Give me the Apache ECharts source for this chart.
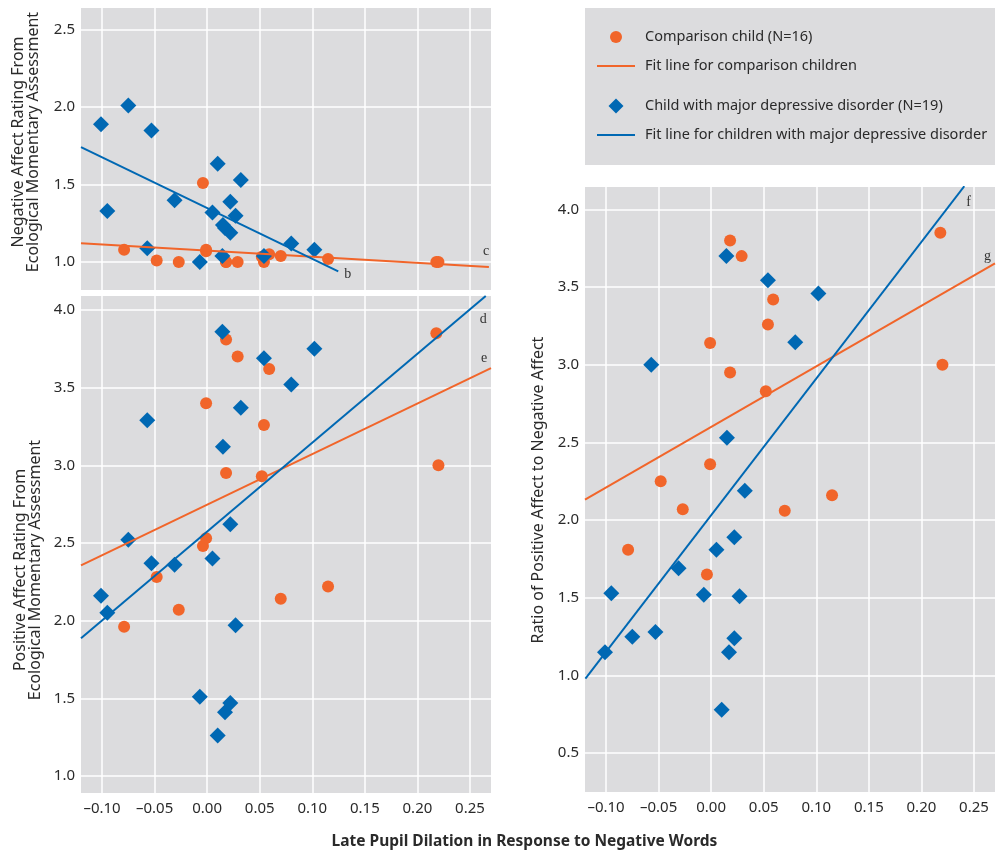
<!DOCTYPE html>
<html>
<head>
<meta charset="utf-8">
<script src="https://cdn.jsdelivr.net/npm/echarts@6/dist/echarts.min.js"></script>
<style>
html,body{margin:0;padding:0;background:#fff;}
#chart{width:1002px;height:854px;}
</style>
</head>
<body>
<div id="chart"></div>
<script>
// ---------- DATA ----------
const xTicks = [-0.10, -0.05, 0.00, 0.05, 0.10, 0.15, 0.20, 0.25];
const xTickLabels = ['\u20130.10', '\u20130.05', '0.00', '0.05', '0.10', '0.15', '0.20', '0.25'];
const naTicks = [1.0, 1.5, 2.0, 2.5];
const naTickLabels = ['1.0', '1.5', '2.0', '2.5'];
const paTicks = [1.0, 1.5, 2.0, 2.5, 3.0, 3.5, 4.0];
const paTickLabels = ['1.0', '1.5', '2.0', '2.5', '3.0', '3.5', '4.0'];
const ratioTicks = [0.5, 1.0, 1.5, 2.0, 2.5, 3.0, 3.5, 4.0];
const ratioTickLabels = ['0.5', '1.0', '1.5', '2.0', '2.5', '3.0', '3.5', '4.0'];

// Comparison children (N=16)
const compX     = [-0.079, -0.048, -0.027, -0.004, -0.001, -0.001, 0.018, 0.018, 0.029, 0.052, 0.054, 0.059, 0.070, 0.115, 0.218, 0.220];
const compNA    = [1.08, 1.01, 1.00, 1.51, 1.07, 1.08, 1.00, 1.00, 1.00, 1.035, 1.00, 1.05, 1.04, 1.02, 1.00, 1.00];
const compPA    = [1.96, 2.28, 2.07, 2.48, 2.53, 3.40, 3.81, 2.95, 3.70, 2.93, 3.26, 3.62, 2.14, 2.22, 3.85, 3.00];
const compRatio = [1.81, 2.25, 2.07, 1.65, 2.36, 3.14, 3.80, 2.95, 3.70, 2.83, 3.26, 3.42, 2.06, 2.16, 3.85, 3.00];

// Children with major depressive disorder (N=19)
const mddX     = [-0.101, -0.095, -0.075, -0.057, -0.053, -0.031, -0.007, 0.005, 0.010, 0.0145, 0.015, 0.017, 0.022, 0.022, 0.027, 0.032, 0.054, 0.080, 0.102];
const mddNA    = [1.89, 1.33, 2.01, 1.09, 1.85, 1.40, 1.00, 1.32, 1.635, 1.04, 1.24, 1.22, 1.39, 1.19, 1.30, 1.53, 1.04, 1.12, 1.08];
const mddPA    = [2.16, 2.05, 2.52, 3.29, 2.37, 2.36, 1.51, 2.40, 1.26, 3.86, 3.12, 1.41, 2.62, 1.47, 1.97, 3.37, 3.69, 3.52, 3.75];
const mddRatio = [1.15, 1.53, 1.25, 3.00, 1.28, 1.69, 1.52, 1.81, 0.78, 3.70, 2.53, 1.15, 1.89, 1.24, 1.51, 2.19, 3.545, 3.145, 3.46];

// Fit lines (end points)
const fitNAComp    = [[-0.12, 1.121], [0.268, 0.968]];
const fitNAMdd     = [[-0.12, 1.742], [0.1247, 0.940]];
const fitPAComp    = [[-0.12, 2.356], [0.27, 3.625]];
const fitPAMdd     = [[-0.12, 1.886], [0.265, 4.09]];
const fitRatioComp = [[-0.12, 2.133], [0.27, 3.653]];
const fitRatioMdd  = [[-0.1196, 0.98], [0.2408, 4.15]];
const fitLetters = ['b', 'c', 'd', 'e', 'f', 'g'];

const seriesNames = ['Comparison child (N=16)', 'Fit line for comparison children',
  'Child with major depressive disorder (N=19)', 'Fit line for children with major depressive disorder'];

// ---------- STYLE ----------
const ORANGE = '#f1652a';
const BLUE = '#0068b3';
const PANEL = '#dcdcde';
const FONT = 'Noto Sans';
const TXT = '#2a2a2a';
const DIAMOND_ICON = 'path://M0,-1L1,0L0,1L-1,0Z';
const LINE_ICON = 'path://M0,0L38,0L38,2L0,2Z';

function zip(xs, ys) { return xs.map((x, i) => [x, ys[i]]); }
function labelFor(ticks, labels) {
  return function (v) {
    for (let i = 0; i < ticks.length; i++) if (Math.abs(ticks[i] - v) < 1e-9) return labels[i];
    return '';
  };
}

const grids = [
  { left: 81, top: 8, width: 410, height: 282 },
  { left: 81, top: 296, width: 410, height: 497 },
  { left: 585, top: 187, width: 410, height: 605 }
].map(g => Object.assign(g, { show: true, backgroundColor: PANEL, borderWidth: 0, containLabel: false }));

function xAxis(gi, showLabel) {
  return {
    type: 'value', gridIndex: gi, min: -0.12, max: 0.27,
    axisLine: { show: false },
    axisTick: { show: false, customValues: xTicks },
    splitLine: { show: true, lineStyle: { color: '#ffffff', width: 1.5 } },
    axisLabel: { show: showLabel, customValues: xTicks, formatter: labelFor(xTicks, xTickLabels),
      margin: 8, fontSize: 15, color: TXT, fontFamily: FONT }
  };
}
function yAxis(gi, min, max, ticks, labels) {
  return {
    type: 'value', gridIndex: gi, min: min, max: max,
    axisLine: { show: false },
    axisTick: { show: false, customValues: ticks },
    splitLine: { show: true, lineStyle: { color: '#ffffff', width: 1.5 } },
    axisLabel: { show: true, customValues: ticks, formatter: labelFor(ticks, labels),
      margin: 6, fontSize: 15, color: TXT, fontFamily: FONT }
  };
}

function scatter(gi, name, data, symbol, size, color) {
  return { type: 'scatter', name: name, xAxisIndex: gi, yAxisIndex: gi, data: data,
    symbol: symbol, symbolSize: size, itemStyle: { color: color, opacity: 1 }, silent: true, z: 3 };
}
function fit(gi, name, data, color, letter, offset) {
  return { type: 'line', name: name, xAxisIndex: gi, yAxisIndex: gi, data: data,
    symbol: 'none', showSymbol: false, lineStyle: { color: color, width: 2 }, itemStyle: { color: color },
    silent: true, z: 4,
    endLabel: { show: true, formatter: letter, fontFamily: 'Liberation Serif', fontSize: 14, color: '#333', offset: offset } };
}

const series = [
  scatter(0, seriesNames[0], zip(compX, compNA), 'circle', 12, ORANGE),
  scatter(0, seriesNames[2], zip(mddX, mddNA), 'diamond', 16, BLUE),
  fit(0, seriesNames[1], fitNAComp, ORANGE, fitLetters[1], [-14, -16]),
  fit(0, seriesNames[3], fitNAMdd, BLUE, fitLetters[0], [-2, 3]),

  scatter(1, seriesNames[0], zip(compX, compPA), 'circle', 12, ORANGE),
  scatter(1, seriesNames[2], zip(mddX, mddPA), 'diamond', 16, BLUE),
  fit(1, seriesNames[1], fitPAComp, ORANGE, fitLetters[3], [-18, -10]),
  fit(1, seriesNames[3], fitPAMdd, BLUE, fitLetters[2], [-14, 23]),

  scatter(2, seriesNames[0], zip(compX, compRatio), 'circle', 12, ORANGE),
  scatter(2, seriesNames[2], zip(mddX, mddRatio), 'diamond', 16, BLUE),
  fit(2, seriesNames[1], fitRatioComp, ORANGE, fitLetters[5], [-19, -7]),
  fit(2, seriesNames[3], fitRatioMdd, BLUE, fitLetters[4], [-6, 16])
];

const legendText = { fontSize: 14.5, color: TXT, fontFamily: FONT, lineHeight: 18, padding: [0, 0, 0, 5] };

const option = {
  animation: false,
  textStyle: { fontFamily: FONT },
  grid: grids,
  xAxis: [xAxis(0, false), xAxis(1, true), xAxis(2, true)],
  yAxis: [
    yAxis(0, 0.82, 2.64, naTicks, naTickLabels),
    yAxis(1, 0.89, 4.09, paTicks, paTickLabels),
    yAxis(2, 0.25, 4.145, ratioTicks, ratioTickLabels)
  ],
  legend: [
    { orient: 'vertical', left: 597, top: 28, padding: 0, itemWidth: 38, itemHeight: 12, itemGap: 11,
      selectedMode: false, textStyle: legendText,
      data: [{ name: seriesNames[0], icon: 'circle' }, { name: seriesNames[1], icon: LINE_ICON }] },
    { orient: 'vertical', left: 597, top: 97, padding: 0, itemWidth: 38, itemHeight: 15, itemGap: 11,
      selectedMode: false, textStyle: legendText,
      data: [{ name: seriesNames[2], icon: DIAMOND_ICON }, { name: seriesNames[3], icon: LINE_ICON }] }
  ],
  graphic: [
    { type: 'rect', z: -10, silent: true, shape: { x: 585, y: 8, width: 410, height: 157 }, style: { fill: PANEL } },
    { type: 'text', silent: true, x: 25.5, y: 142, rotation: Math.PI / 2,
      style: { text: 'Negative Affect Rating From\nEcological Momentary Assessment', fontSize: 16, fontFamily: FONT,
        fill: TXT, align: 'center', verticalAlign: 'middle', lineHeight: 15 } },
    { type: 'text', silent: true, x: 27.5, y: 570, rotation: Math.PI / 2,
      style: { text: 'Positive Affect Rating From\nEcological Momentary Assessment', fontSize: 16, fontFamily: FONT,
        fill: TXT, align: 'center', verticalAlign: 'middle', lineHeight: 15 } },
    { type: 'text', silent: true, x: 538, y: 490, rotation: Math.PI / 2,
      style: { text: 'Ratio of Positive Affect to Negative Affect', fontSize: 16, fontFamily: FONT,
        fill: TXT, align: 'center', verticalAlign: 'middle' } },
    { type: 'text', silent: true, x: 524.5, y: 842,
      style: { text: 'Late Pupil Dilation in Response to Negative Words', fontSize: 15.5, fontWeight: 'bold', fontFamily: FONT,
        fill: TXT, align: 'center', verticalAlign: 'middle' } }
  ],
  series: series
};

const chart = echarts.init(document.getElementById('chart'), null, { renderer: 'canvas' });
chart.setOption(option);
</script>
</body>
</html>
